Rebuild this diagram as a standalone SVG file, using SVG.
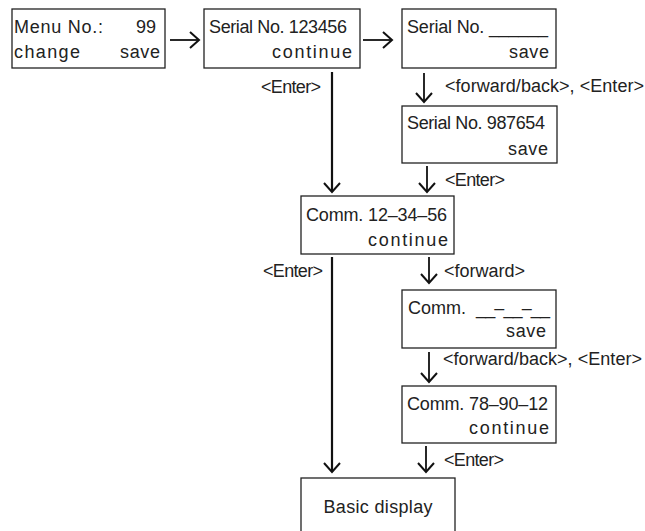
<svg xmlns="http://www.w3.org/2000/svg" width="645" height="531" viewBox="0 0 645 531">
<style>
.box{fill:#fff;stroke:#222;stroke-width:1.3}
.t{font-family:"Liberation Sans",Arial,sans-serif;font-size:18px;fill:#222}
.e{text-anchor:end}
.m{text-anchor:middle}
.c line{stroke:#111;stroke-width:1.8;marker-end:url(#ah)}
.c line.l{stroke-width:2.2}
</style>
<defs>
<marker id="ah" markerUnits="userSpaceOnUse" markerWidth="22" markerHeight="22" viewBox="-11 -11 22 22" refX="0" refY="0" orient="auto">
<path d="M-9,-8 L0,0 L-9,8" fill="none" stroke="#111" stroke-width="2"/>
</marker>
</defs>
<rect width="645" height="531" fill="#fff"/>
<g id="connectors" class="c">
<line x1="170" y1="40" x2="199" y2="40"/>
<line x1="363" y1="40" x2="392" y2="40"/>
<line x1="424" y1="73" x2="424" y2="102"/>
<line x1="427" y1="166" x2="427" y2="192"/>
<line class="l" x1="332" y1="72" x2="332" y2="192"/>
<line class="l" x1="332" y1="257" x2="332" y2="472"/>
<line x1="429" y1="257" x2="429" y2="283"/>
<line x1="429" y1="352" x2="429" y2="382"/>
<line x1="426" y1="446" x2="426" y2="472"/>
</g>
<g id="labels">
<text class="t" x="261" y="93" textLength="60">&lt;Enter&gt;</text>
<text class="t" x="445" y="92" textLength="199">&lt;forward/back&gt;, &lt;Enter&gt;</text>
<text class="t" x="445" y="186" textLength="60">&lt;Enter&gt;</text>
<text class="t" x="263" y="277" textLength="60">&lt;Enter&gt;</text>
<text class="t" x="444" y="277" textLength="81">&lt;forward&gt;</text>
<text class="t" x="443" y="365" textLength="199">&lt;forward/back&gt;, &lt;Enter&gt;</text>
<text class="t" x="444" y="466" textLength="60">&lt;Enter&gt;</text>
</g>
<g id="menu">
<rect class="box" x="12" y="9" width="153" height="59"/>
<text class="t" x="14" y="33" textLength="89">Menu No.:</text>
<text class="t e" x="156" y="33">99</text>
<text class="t" x="14" y="58" textLength="66">change</text>
<text class="t" x="120" y="58" textLength="40">save</text>
</g>
<g id="serial1">
<rect class="box" x="204" y="9" width="156" height="59"/>
<text class="t" x="209" y="33" textLength="138">Serial No. 123456</text>
<text class="t" x="272" y="58" textLength="80">continue</text>
</g>
<g id="serial-edit">
<rect class="box" x="402" y="9" width="154" height="59"/>
<text class="t" x="407" y="33" textLength="141">Serial No. ______</text>
<text class="t" x="509" y="58" textLength="40">save</text>
</g>
<g id="serial2">
<rect class="box" x="402" y="106" width="155" height="57"/>
<text class="t" x="407" y="129" textLength="138">Serial No. 987654</text>
<text class="t" x="508" y="155" textLength="40">save</text>
</g>
<g id="comm1">
<rect class="box" x="301" y="196" width="153" height="58"/>
<text class="t" x="306" y="221" textLength="141">Comm. 12–34–56</text>
<text class="t" x="368" y="246" textLength="80">continue</text>
</g>
<g id="comm-edit">
<rect class="box" x="402" y="290" width="154" height="58"/>
<text class="t" x="408" y="314">Comm.<tspan x="476" textLength="74">__–__–__</tspan></text>
<text class="t" x="506" y="337" textLength="40">save</text>
</g>
<g id="comm2">
<rect class="box" x="402" y="386" width="154" height="57"/>
<text class="t" x="407" y="410" textLength="141">Comm. 78–90–12</text>
<text class="t" x="469" y="434" textLength="80">continue</text>
</g>
<g id="basic">
<rect class="box" x="301" y="478" width="154" height="62"/>
<text class="t m" x="378" y="513" textLength="109">Basic display</text>
</g>
</svg>
